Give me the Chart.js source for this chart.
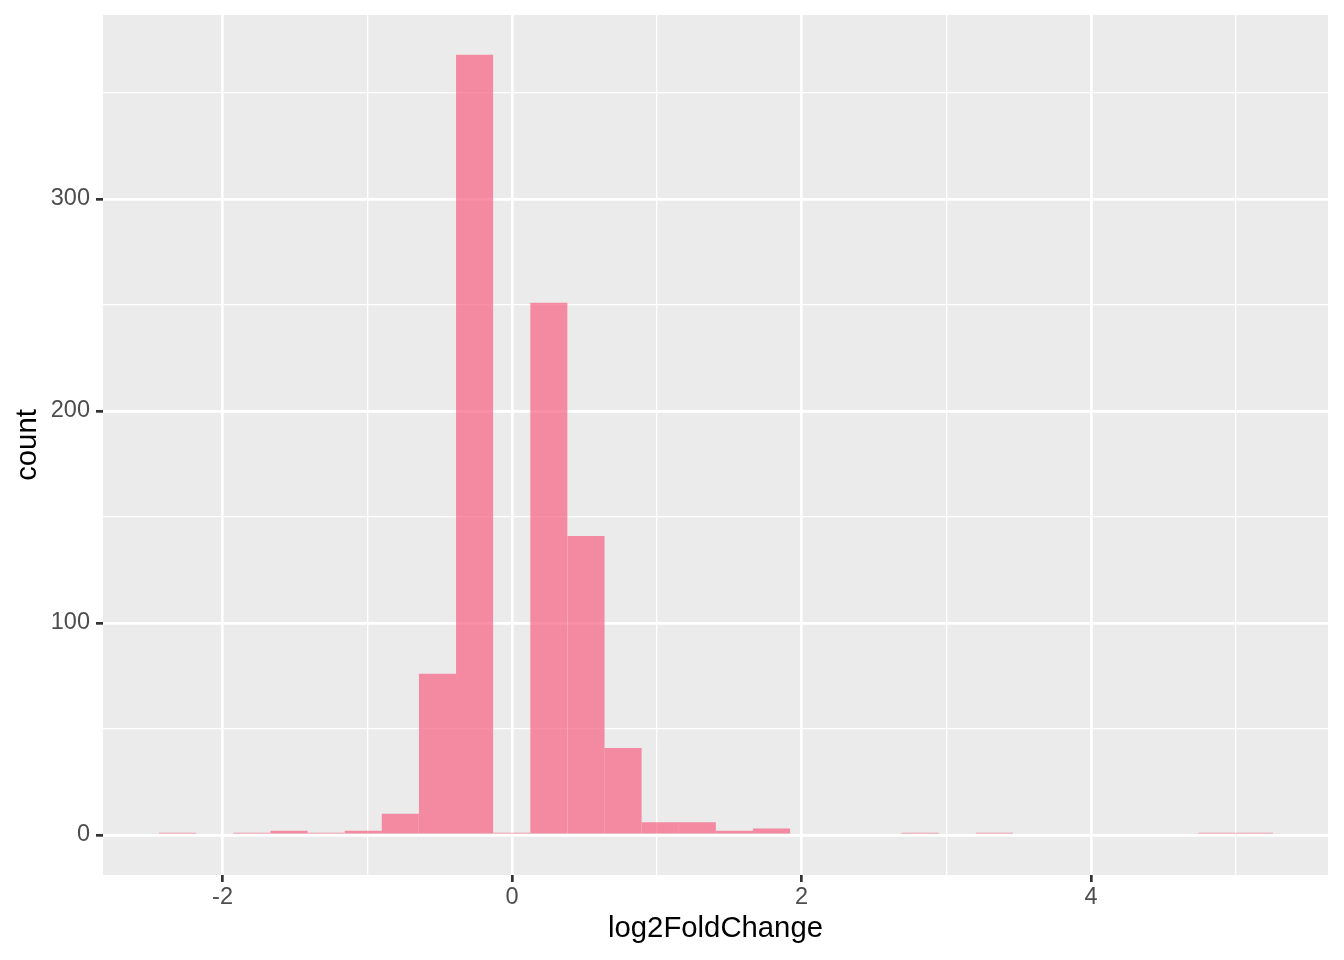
<!DOCTYPE html>
<html>
<head>
<meta charset="utf-8">
<script src="https://cdn.jsdelivr.net/npm/chart.js@4"></script>
<style>
  body { margin: 0; background: #ffffff; }
  #wrap { width: 1344px; height: 960px; }
</style>
</head>
<body>
<div id="wrap"><canvas id="myChart"></canvas></div>
<script>
'use strict';

// DATA (histogram bins)
let binCenters = [
  -2.311, -2.054, -1.798, -1.541, -1.285, -1.028, -0.772, -0.515, -0.259, -0.002,
  0.254, 0.511, 0.767, 1.024, 1.280, 1.537, 1.793, 2.050, 2.306, 2.563,
  2.819, 3.076, 3.332, 3.589, 3.845, 4.102, 4.358, 4.615, 4.871, 5.128
];
let counts = [
  1, 0, 1, 2, 1, 2, 10, 76, 368, 1,
  251, 141, 41, 6, 6, 2, 3, 0, 0, 0,
  1, 0, 1, 0, 0, 0, 0, 0, 1, 1
];

let xMajor = [-2, 0, 2, 4];
let xMinor = [-1, 1, 3, 5];
let yMajor = [0, 100, 200, 300];
let yMinor = [50, 150, 250, 350];

// panel background plugin
const panelBg = {
  id: 'panelBg',
  beforeDraw(chart) {
    const a = chart.chartArea;
    const c = chart.ctx;
    c.save();
    c.fillStyle = '#EBEBEB';
    c.fillRect(a.left, a.top, a.right - a.left, a.bottom - a.top);
    c.restore();
  }
};

function gridWidth(major) {
  return function (ctx) {
    if (!ctx.tick) return 0;
    return major.includes(ctx.tick.value) ? 2.7 : 1.3;
  };
}

function tickColor(major) {
  return function (ctx) {
    if (!ctx.tick) return 'rgba(0,0,0,0)';
    return major.includes(ctx.tick.value) ? '#333333' : 'rgba(0,0,0,0)';
  };
}

const ctx = document.getElementById('myChart').getContext('2d');
const myChart = new Chart(ctx, {
  type: 'bar',
  data: {
    datasets: [{
      data: binCenters.map((c, i) => ({ x: c, y: counts[i] })),
      backgroundColor: c => (c.raw && c.raw.y > 0) ? 'rgba(248, 96, 131, 0.7)' : 'rgba(0,0,0,0)',
      borderWidth: 0,
      inflateAmount: 0,
      barPercentage: 1,
      categoryPercentage: 1,
      grouped: false
    }]
  },
  plugins: [panelBg],
  options: {
    responsive: true,
    maintainAspectRatio: false,
    animation: false,
    layout: { padding: { top: 15, right: 16, left: 0, bottom: 0 } },
    plugins: {
      legend: { display: false },
      tooltip: { enabled: false }
    },
    scales: {
      x: {
        type: 'linear',
        offset: false,
        min: -2.826,
        max: 5.637,
        afterBuildTicks(scale) {
          scale.ticks = xMajor.concat(xMinor).sort((a, b) => a - b).map(v => ({ value: v }));
        },
        afterFit(scale) {
          scale.height = 85;
          scale.paddingLeft = 0;
          scale.paddingRight = 0;
        },
        border: { display: false },
        grid: {
          offset: false,
          color: '#ffffff',
          lineWidth: gridWidth(xMajor),
          tickColor: tickColor(xMajor),
          tickWidth: 2.7,
          tickLength: 7
        },
        ticks: {
          autoSkip: false,
          maxRotation: 0,
          padding: 1,
          color: '#4D4D4D',
          font: { family: 'Liberation Sans, Arial, sans-serif', size: 23.5 },
          callback: v => xMajor.includes(v) ? String(v) : ''
        },
        title: {
          display: true,
          text: 'log2FoldChange',
          color: '#000000',
          font: { family: 'Liberation Sans, Arial, sans-serif', size: 29.3 },
          padding: { top: 0, bottom: 14 }
        }
      },
      y: {
        type: 'linear',
        min: -18.9,
        max: 386.8,
        afterBuildTicks(scale) {
          scale.ticks = yMajor.concat(yMinor).sort((a, b) => a - b).map(v => ({ value: v }));
        },
        afterFit(scale) {
          scale.width = 103;
          scale.paddingTop = 0;
          scale.paddingBottom = 0;
        },
        border: { display: false },
        grid: {
          color: '#ffffff',
          lineWidth: gridWidth(yMajor),
          tickColor: tickColor(yMajor),
          tickWidth: 2.7,
          tickLength: 7
        },
        ticks: {
          autoSkip: false,
          padding: 6,
          color: '#4D4D4D',
          font: { family: 'Liberation Sans, Arial, sans-serif', size: 23.5 },
          callback: v => yMajor.includes(v) ? String(v) : ''
        },
        title: {
          display: true,
          text: 'count',
          color: '#000000',
          font: { family: 'Liberation Sans, Arial, sans-serif', size: 29.3 },
          padding: { top: 10, bottom: 0 }
        }
      }
    }
  }
});
</script>
</body>
</html>
